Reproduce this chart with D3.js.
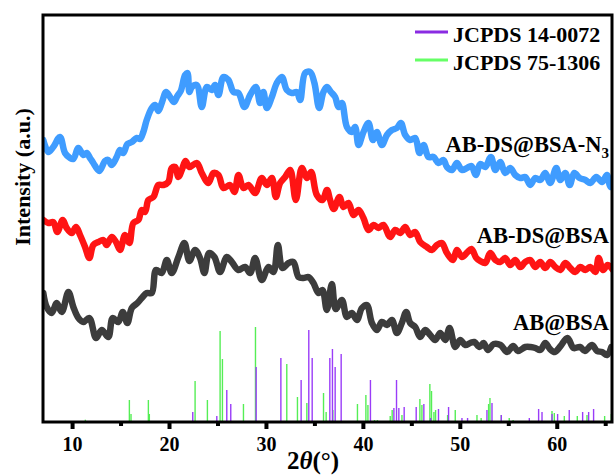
<!DOCTYPE html>
<html>
<head>
<meta charset="utf-8">
<script src="https://cdn.jsdelivr.net/npm/d3@7"></script>
<style>
  body { margin: 0; background: #fff; }
  text { font-family: "Liberation Serif", "Times New Roman", serif; font-weight: bold; }
</style>
</head>
<body>
<svg id="xrd" width="614" height="476"></svg>
<script>
// ---- data (2theta in degrees, intensity in a.u.) ----

var blueTheta = [7.03,7.55,8.06,8.75,9.27,9.79,10.13,10.65,11.16,11.51,11.85,12.19,12.81,13.4,13.74,14.09,14.6,14.95,15.29,15.7,16.16,16.67,17.01,17.35,17.7,18.22,18.56,18.9,19.25,19.7,20.11,20.52,20.86,21.21,21.66,21.9,22.1,22.35,22.87,23.38,23.9,24.41,24.75,25.1,25.61,26.13,26.65,27.16,27.78,28.37,28.96,29.4,29.74,30.09,30.61,31.12,31.64,32.15,32.67,33.19,33.53,34.04,34.56,35.0,35.49,35.93,36.28,36.7,37.14,37.48,37.83,38.35,38.86,39.2,39.55,40.06,40.58,41.03,41.44,41.96,42.48,42.99,43.51,43.92,44.37,44.88,45.4,45.84,46.26,46.77,47.29,47.8,48.32,48.67,49.19,49.7,50.22,50.74,51.2,51.65,52.1,52.62,53.21,53.66,54.17,54.69,55.2,55.72,56.24,56.75,57.27,57.78,58.3,58.82,59.33,59.95,60.37,60.88,61.33,61.81,62.36,62.95,63.46,64.08,64.67,65.18,65.53,65.8];
var blueI = [282,270,275,285,269,264,263,274,267,269,264,259,251,261,262,257,265,272,269,278,280,284,283,290,302,314,317,311,319,330,325,320,326,331,347,349,330,335,337,315,335,332,337,327,345,342,330,329,315,327,335,319,330,314,325,339,345,332,329,330,322,349,350,339,314,330,335,330,325,315,319,295,290,295,277,290,299,282,290,277,287,292,294,299,287,282,284,269,277,265,265,259,262,255,252,259,252,254,256,247,258,255,265,252,260,249,254,247,244,245,237,244,242,249,239,254,242,249,237,249,244,242,239,245,240,247,235,237];

var redTheta = [7.03,7.55,8.06,8.48,9.03,9.44,9.96,10.41,10.82,11.34,11.78,12.19,12.71,13.23,13.57,14.09,14.53,14.95,15.46,15.91,16.32,16.84,17.19,17.53,17.87,18.39,18.9,19.42,19.93,20.28,20.63,20.97,21.32,21.7,22.1,22.87,23.38,24.06,24.58,25.1,25.61,26.3,26.75,27.16,27.68,28.19,28.88,29.57,30.09,30.61,31.02,31.46,31.98,32.5,33.08,33.7,34.22,34.66,35.25,35.83,36.3,36.62,37.0,37.58,38.0,38.51,39.03,39.55,40.06,40.58,41.09,41.61,42.12,42.82,43.33,43.85,44.37,44.88,45.4,45.91,46.6,47.12,47.64,48.15,48.67,49.29,49.7,50.22,50.8,51.2,51.7,52.1,52.62,53.14,53.66,54.17,54.69,55.2,55.72,56.24,56.75,57.27,57.78,58.3,58.82,59.33,59.85,60.37,60.88,61.4,61.91,62.43,62.95,63.46,63.98,64.32,64.78,65.26,65.8];
var redI = [202,199,200,190,202,194,189,195,187,175,164,177,180,182,177,185,180,172,187,179,199,202,212,210,222,225,237,237,240,254,255,245,252,261,255,259,249,239,249,247,234,237,230,247,234,237,229,244,237,244,225,239,245,252,222,254,244,250,227,222,232,222,213,225,215,219,207,212,204,192,197,194,197,185,192,189,195,187,190,180,175,172,177,179,169,162,172,165,170,173,164,161,159,169,162,160,164,157,162,155,160,162,155,160,154,160,155,152,159,154,150,155,152,155,150,164,152,157,152];

var greyTheta = [7.03,7.38,7.9,8.42,8.94,9.62,10.13,10.65,11.16,11.78,12.47,13.06,13.74,14.19,14.77,15.23,15.7,16.16,16.74,17.19,17.7,18.22,18.66,19.25,19.77,20.28,20.97,21.59,22.1,22.69,23.2,23.65,24.13,24.68,25.27,25.96,26.48,27.16,27.85,28.37,28.88,29.57,30.26,30.78,31.23,31.7,32.33,32.84,33.36,33.87,34.39,34.9,35.42,35.83,36.28,36.8,37.2,37.83,38.35,38.86,39.38,39.9,40.41,40.93,41.44,41.96,42.48,42.99,43.51,44.02,44.47,44.88,45.4,45.91,46.43,46.95,47.46,47.98,48.5,48.94,49.53,50.04,50.56,51.07,51.5,52.04,52.45,52.9,53.5,54.2,54.88,55.5,56.0,56.76,57.3,57.79,58.3,58.82,59.3,59.8,60.4,61.1,61.74,62.4,62.9,63.64,64.15,64.67,65.18,65.63];
var greyI = [129,115,109,119,110,130,115,104,100,104,84,92,85,104,100,110,99,114,119,124,129,129,152,149,162,149,165,179,161,172,164,149,169,165,150,165,160,152,155,149,164,142,155,150,177,154,159,160,145,144,145,139,129,132,112,138,113,122,105,109,102,114,117,99,92,100,97,102,89,99,110,99,95,85,92,87,82,89,82,94,75,82,77,79,80,75,79,72,78,77,70,76,71,75,75,74,72,79,73,70,76,84,74,75,71,77,71,70,67,75];

// reference patterns (stick positions / heights)
var pdf1Theta = [22.45,24.93,25.96,26.37,28.99,31.54,33.63,34.42,34.77,36.59,36.86,37.14,37.76,40.78,43.2,43.47,43.71,44.26,45.5,46.29,46.98,47.8,48.84,50.22,50.8,52.8,53.32,54.28,57.17,58.13,58.48,59.51,60.09,61.29,62.67,63.29,63.8];
var pdf1I = [10,6,32,18,55,64,42,92,64,64,73,55,68,42,14,42,14,15,15,18,4,13,15,4,4,12,19,7,4,13,10,8,8,12,10,10,13];

var pdf2Theta = [11.37,15.91,16.08,17.87,17.97,22.69,23.96,25.27,25.51,27.68,28.92,32.15,33.25,34.22,35.94,36.21,36.9,39.44,40.31,40.52,41.2,41.5,42.82,43.02,44.03,45.88,46.09,46.91,47.08,47.33,47.5,48.74,49.53,51.77,52.2,52.97,53.11,54.28,55.1,55.5,59.51,59.75,60.78,62.12,63.12,64.94,65.63];
var pdf2I = [2.3,22,8,22,8,41,22,91,63,18,95,58,25,19,29,10,12,18,27,17,2,2,6,12,7,23,17,38,31,10,12,7,12,7,4,18,24,7,4,2,11,9,6,6,7,6,8];

var xTicks = [10, 20, 30, 40, 50, 60];
var xMinor = [15, 25, 35, 45, 55, 65];

var series = [
  {name: "AB@BSA", theta: greyTheta, val: greyI, color: "#3c3c3c", labelY: 330},
  {name: "AB-DS@BSA", theta: redTheta, val: redI, color: "#ff1414", labelY: 243},
  {name: "AB-DS@BSA-N", sub: "3", theta: blueTheta, val: blueI, color: "#3f9cff", labelY: 152}
];
var refs = [
  {name: "JCPDS 75-1306", theta: pdf2Theta, val: pdf2I, color: "#55ee55", legColor: "#66ff66"},
  {name: "JCPDS 14-0072", theta: pdf1Theta, val: pdf1I, color: "#9a3cf8", legColor: "#8a2be2"}
];

// ---- layout ----
var svg = d3.select("#xrd"),
    margin = {top: 15, right: 2, bottom: 54, left: 43},
    width = +svg.attr("width") - margin.left - margin.right,
    height = +svg.attr("height") - margin.top - margin.bottom,
    g = svg.append("g").attr("transform", "translate(" + margin.left + "," + margin.top + ")");

var x = d3.scaleLinear().domain([7, 65.7]).range([0, width]);
var y = d3.scaleLinear().domain([0, height]).range([height, 0]);

// sticks: green first, purple on top
refs.forEach(function(r) {
  g.append("g")
    .selectAll("line")
    .data(r.theta)
    .enter().append("line")
    .attr("x1", function(d) { return x(d); })
    .attr("x2", function(d) { return x(d); })
    .attr("y1", y(0))
    .attr("y2", function(d, i) { return y(r.val[i]); })
    .attr("stroke", r.color)
    .attr("stroke-width", 1.4);
});

// patterns
var line = d3.line()
  .x(function(d) { return x(d[0]); })
  .y(function(d) { return y(d[1]); })
  .curve(d3.curveCatmullRom.alpha(0.5));

var clip = svg.append("clipPath").attr("id", "clip")
  .append("rect").attr("width", width).attr("height", height);

series.forEach(function(s) {
  var pts = s.theta.map(function(t, i) { return [t, s.val[i]]; });
  g.append("path")
    .datum(pts)
    .attr("clip-path", "url(#clip)")
    .attr("fill", "none")
    .attr("stroke", s.color)
    .attr("stroke-width", 6.5)
    .attr("stroke-linejoin", "round")
    .attr("stroke-linecap", "round")
    .attr("d", line);

  var t = g.append("text")
    .attr("x", width - 3)
    .attr("y", s.labelY - margin.top)
    .attr("text-anchor", "end")
    .attr("font-size", 22.5)
    .attr("fill", "#000")
    .text(s.name);
  if (s.sub) {
    t.append("tspan").attr("font-size", 15).attr("dy", 6).text(s.sub);
  }
});

// frame
g.append("rect")
  .attr("width", width)
  .attr("height", height)
  .attr("fill", "none")
  .attr("stroke", "#000")
  .attr("stroke-width", 3);

// x axis
var xAxis = g.append("g")
  .attr("transform", "translate(0," + height + ")")
  .call(d3.axisBottom(x).tickValues(xTicks).tickSize(7).tickSizeOuter(0).tickPadding(8));
xAxis.select(".domain").remove();
xAxis.selectAll(".tick line").attr("stroke", "#000").attr("stroke-width", 4);
xAxis.selectAll(".tick text")
  .attr("fill", "#000")
  .style("font-family", "Liberation Serif, serif")
  .style("font-weight", "bold")
  .style("font-size", "20px");

var xMinorAxis = g.append("g")
  .attr("transform", "translate(0," + height + ")")
  .call(d3.axisBottom(x).tickValues(xMinor).tickSize(4).tickSizeOuter(0).tickFormat(""));
xMinorAxis.select(".domain").remove();
xMinorAxis.selectAll(".tick line").attr("stroke", "#000").attr("stroke-width", 4);

// axis titles
var xt = svg.append("text")
  .attr("x", 313)
  .attr("y", 469)
  .attr("text-anchor", "middle")
  .attr("font-size", 25)
  .attr("fill", "#000");
xt.append("tspan").text("2");
xt.append("tspan").attr("font-style", "italic").text("\u03b8");
xt.append("tspan").text("(\u00b0)");

svg.append("text")
  .attr("transform", "translate(22,177) rotate(-90)")
  .attr("text-anchor", "middle")
  .attr("dominant-baseline", "central")
  .attr("font-size", 22)
  .attr("fill", "#000")
  .text("Intensity (a.u.)");

// legend
var legend = svg.selectAll(".legend")
  .data(refs.slice().reverse())
  .enter().append("g")
  .attr("class", "legend")
  .attr("transform", function(d, i) { return "translate(0," + (32 + i * 28) + ")"; });

legend.append("line")
  .attr("x1", 415)
  .attr("x2", 448)
  .attr("stroke", function(d) { return d.legColor; })
  .attr("stroke-width", 3);

legend.append("text")
  .attr("x", 453)
  .attr("y", 10)
  .attr("font-size", 22)
  .attr("fill", "#000")
  .text(function(d) { return d.name; });
</script>
</body>
</html>
